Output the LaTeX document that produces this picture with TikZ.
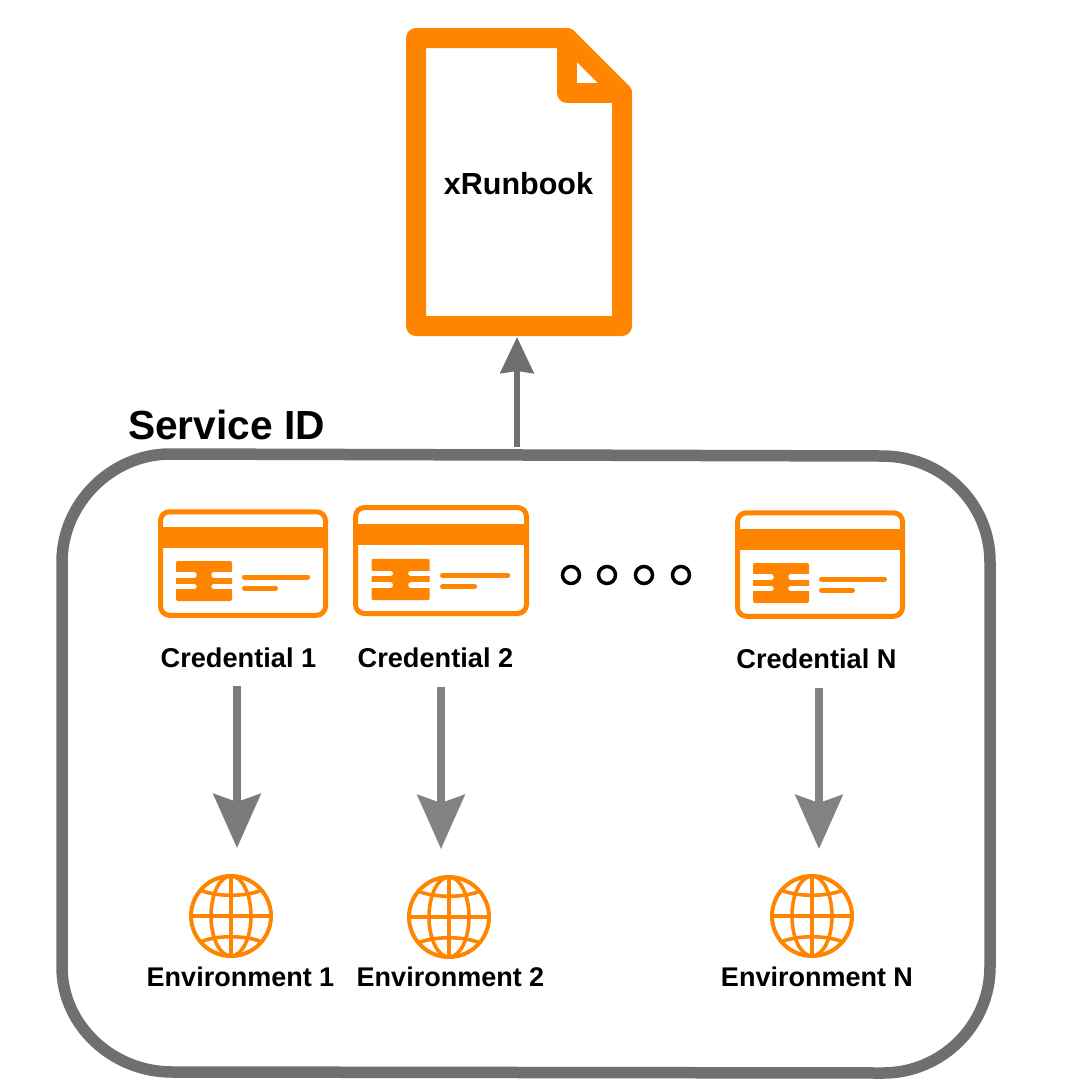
\documentclass[tikz,border=0pt]{standalone}
\usepackage{fontspec}
\setmainfont{Liberation Sans}
\usetikzlibrary{arrows.meta}
\definecolor{org}{HTML}{FF8500}
\definecolor{gA}{HTML}{706E6E}
\definecolor{gB}{HTML}{7B7B7B}
\definecolor{gC}{HTML}{828282}
\tikzset{
  lab/.style={inner sep=0pt,outer sep=0pt,text height=14pt,text depth=4pt,font=\bfseries\fontsize{27.2}{29}\selectfont,text=black},
  card/.style={inner sep=0pt,outer sep=0pt,draw=org,line width=5pt,rounded corners=9pt,minimum width=165pt,minimum height=103.5pt},
  globe/.style={circle,inner sep=0pt,outer sep=0pt,minimum size=80pt,draw=org,line width=4pt},
  downarr/.style={line width=8pt,-{Stealth[length=54pt,width=47pt,inset=8pt]}},
  dot/.style={circle,draw=black,line width=3.5pt,minimum size=17pt,inner sep=0pt}
}
\newcommand{\cardinside}[2]{% #1 = outer top-left, #2 = scale
  \begin{scope}[shift={(#1)},scale=#2]
    \fill[org] (0,18) rectangle (170,39);
    \fill[org,rounded corners=2pt] (18,52) rectangle (74,92);
    \foreach \yy in {66,77.5}{
      \draw[white,line width=5.5pt,line cap=round] (14,\yy) -- (36,\yy);
      \draw[white,line width=5.5pt,line cap=round] (56,\yy) -- (78,\yy);
    }
    \draw[org,line width=5pt,line cap=round] (86.5,68) -- (149.5,68);
    \draw[org,line width=5pt,line cap=round] (86.5,79) -- (117.5,79);
  \end{scope}}
\newcommand{\globeinside}[1]{%
  \begin{scope}[shift={(#1)},draw=org,line width=3.6pt]
    \draw (-40,0) -- (40,0);
    \draw (0,-40) -- (0,40);
    \draw (0,0) ellipse [x radius=20,y radius=40];
    \draw (-31,-26) .. controls (-15,-19) and (15,-19) .. (31,-26);
    \draw (-31,26) .. controls (-15,19) and (15,19) .. (31,26);
  \end{scope}}
\begin{document}
\begin{tikzpicture}[x=1pt,y=-1pt]
\useasboundingbox (0,0) rectangle (1080,1080);
\fill[white] (0,0) rectangle (1080,1080);

% document
\node[inner sep=0pt,outer sep=0pt,minimum width=206pt,minimum height=288pt] (doc) at (519,182) {};
\draw[org,line width=20pt,line join=round] (416,38) -- (567,38) -- (622,93) -- (622,326) -- (416,326) -- cycle;
\draw[org,line width=20pt,line join=round,line cap=round] (567,38) -- (567,93) -- (622,93);
\node[anchor=base,inner sep=0pt,font=\bfseries\fontsize{30.5}{33}\selectfont] (doclab) at (518.5,194) {xRunbook};

% service box
\node[inner sep=0pt,outer sep=0pt,minimum width=929pt,minimum height=616pt] (svc) at (526.5,763) {};
\draw[gA,line width=11.5pt] (170,454) -- (882,456)
  .. controls (942,456) and (990,503) .. (990,562)
  -- (990,967)
  .. controls (990,1025) and (942,1073) .. (883,1073)
  -- (172,1072)
  .. controls (112,1072) and (62,1025) .. (62,967)
  -- (62,562)
  .. controls (62,503) and (112,454) .. (170,454) -- cycle;
\node[anchor=base west,inner sep=0pt,font=\bfseries\fontsize{40.7}{43}\selectfont] (svclab) at (128,439) {Service ID};

% top arrow
\draw[gA,line width=6pt,-{Stealth[length=36pt,width=33pt,inset=2pt]}]
  ([xshift=-9.5pt,yshift=8pt]svc.north) -- ([xshift=-2pt,yshift=-11pt]doc.south);

% cards
\node[card] (card1) at (243,563.5) {};
\cardinside{158,509}{1}
\node[card,minimum width=171pt,minimum height=106pt] (card2) at (441,560.5) {};
\cardinside{353,505}{1.035}
\node[card] (cardN) at (820,564.5) {};
\cardinside{735,511}{1}

% dots
\node[dot] (d1) at (571,575) {};
\node[dot] (d2) at (607,575) {};
\node[dot] (d3) at (644,575) {};
\node[dot] (d4) at (681,575) {};

% labels
\node[lab] (cred1) at (238.5,662) {Credential 1};
\node[lab] (cred2) at (435.5,662) {Credential 2};
\node[lab] (credN) at (816.5,663) {Credential N};

% globes
\node[globe] (glob1) at (231,916) {};
\globeinside{231,916}
\node[globe] (glob2) at (449,917) {};
\globeinside{449,917}
\node[globe] (globN) at (812,916) {};
\globeinside{812,916}

\node[lab,font=\bfseries\fontsize{27}{29}\selectfont] (env1) at (240.5,981) {Environment 1};
\node[lab,font=\bfseries\fontsize{27}{29}\selectfont] (env2) at (450.5,981) {Environment 2};
\node[lab,font=\bfseries\fontsize{27}{29}\selectfont] (envN) at (817,981) {Environment N};

% arrows
\draw[downarr,gB] ([xshift=-1.5pt,yshift=-15pt]cred1.south) -- ([xshift=6pt,yshift=28pt]glob1.north);
\draw[downarr,gC] ([xshift=5.5pt,yshift=-16pt]cred2.south) -- ([xshift=-8pt,yshift=28pt]glob2.north);
\draw[downarr,gC] ([xshift=2.5pt,yshift=-16pt]credN.south) -- ([xshift=7pt,yshift=27pt]globN.north);
\end{tikzpicture}
\end{document}
